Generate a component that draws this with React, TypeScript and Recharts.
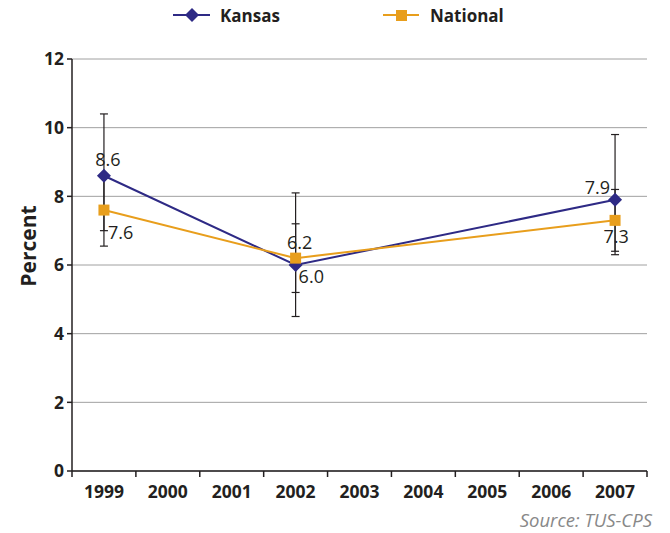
import React from 'react';
import { LineChart, Line, XAxis, YAxis, CartesianGrid, ErrorBar, LabelList } from 'recharts';

const years = [1999, 2000, 2001, 2002, 2003, 2004, 2005, 2006, 2007];
const kansas: (number | null)[] = [8.6, null, null, 6.0, null, null, null, null, 7.9];
const national: (number | null)[] = [7.6, null, null, 6.2, null, null, null, null, 7.3];
// [below, above] error extents
const kansasErr: ([number, number] | null)[] = [[1.6, 1.8], null, null, [1.5, 2.1], null, null, null, null, [1.5, 1.9]];
const nationalErr: ([number, number] | null)[] = [[1.05, 1.05], null, null, [1.0, 1.0], null, null, null, null, [1.0, 0.9]];
const yTicks = [0, 2, 4, 6, 8, 10, 12];

const KANSAS = '#2E2A85';
const NATIONAL = '#E89E1C';
const FONT = '"Open Sans", "DejaVu Sans", sans-serif';

const data = years
  .map((y, i) => ({
    year: y,
    kansas: kansas[i],
    national: national[i],
    kansasErr: kansasErr[i],
    nationalErr: nationalErr[i],
  }))
  .filter((r) => r.kansas !== null || r.national !== null);

const boundaries = [years[0] - 0.5, ...years.map((y) => y + 0.5)];
const xTicks = [...boundaries, ...years].sort((a, b) => a - b);

const XTick = (props: any) => {
  const { x, y, payload } = props;
  const v = payload.value;
  if (Number.isInteger(v)) {
    return (
      <text x={x} y={y + 27} textAnchor="middle" fontFamily={FONT} fontWeight={700} fontSize={17.5} fill="#231f20">
        {v}
      </text>
    );
  }
  return <line x1={x} x2={x} y1={y} y2={y + 6} stroke="#231f20" strokeWidth={1.5} />;
};

const Diamond = (props: any) => {
  const { cx, cy } = props;
  if (cx == null || cy == null) return null;
  const r = 7;
  return <polygon points={`${cx},${cy - r} ${cx + r},${cy} ${cx},${cy + r} ${cx - r},${cy}`} fill={KANSAS} />;
};

const Square = (props: any) => {
  const { cx, cy } = props;
  if (cx == null || cy == null) return null;
  return <rect x={cx - 5.5} y={cy - 5.5} width={11} height={11} fill={NATIONAL} />;
};

const kansasLabelPos = [
  { dx: 4, dy: -10, anchor: 'middle' },
  { dx: 3, dy: 18, anchor: 'start' },
  { dx: -5, dy: -6, anchor: 'end' },
];
const nationalLabelPos = [
  { dx: 4, dy: 29, anchor: 'start' },
  { dx: 4, dy: -9, anchor: 'middle' },
  { dx: 1, dy: 23, anchor: 'middle' },
];

const makeLabel = (pos: any[]) => (props: any) => {
  const { x, y, value, index } = props;
  const p = pos[index] || pos[0];
  return (
    <text x={x + p.dx} y={y + p.dy} textAnchor={p.anchor} fontFamily={FONT} fontSize={18} fill="#231f20">
      {Number(value).toFixed(1)}
    </text>
  );
};

export default function App() {
  return (
    <div style={{ position: 'absolute', left: 0, top: 0, width: 670, height: 533, background: '#fff' }}>
      <LineChart width={670} height={533} data={data} margin={{ top: 59, right: 23, left: 12, bottom: 32 }}>
        <CartesianGrid vertical={false} stroke="#a0a0a0" strokeWidth={1} />
        <XAxis
          dataKey="year"
          type="number"
          domain={[years[0] - 0.5, years[years.length - 1] + 0.5]}
          ticks={xTicks}
          interval={0}
          tick={<XTick />}
          tickLine={false}
          tickSize={0}
          tickMargin={0}
          height={30}
          axisLine={{ stroke: '#231f20', strokeWidth: 1.5 }}
        />
        <YAxis
          domain={[0, 12]}
          ticks={yTicks}
          interval={0}
          width={60}
          tickSize={5}
          tickMargin={3}
          tick={{ fontFamily: FONT, fontWeight: 700, fontSize: 17.5, fill: '#231f20' }}
          tickLine={{ stroke: '#231f20', strokeWidth: 1.5 }}
          axisLine={{ stroke: '#231f20', strokeWidth: 1.5 }}
        />
        <Line
          dataKey="kansas"
          stroke={KANSAS}
          strokeWidth={2}
          dot={<Diamond />}
          activeDot={false}
          isAnimationActive={false}
          connectNulls
        >
          <ErrorBar dataKey="kansasErr" width={4} stroke="#231f20" strokeWidth={1.2} direction="y" />
          <LabelList dataKey="kansas" content={makeLabel(kansasLabelPos)} />
        </Line>
        <Line
          dataKey="national"
          stroke={NATIONAL}
          strokeWidth={2}
          dot={<Square />}
          activeDot={false}
          isAnimationActive={false}
          connectNulls
        >
          <ErrorBar dataKey="nationalErr" width={4} stroke="#231f20" strokeWidth={1.2} direction="y" />
          <LabelList dataKey="national" content={makeLabel(nationalLabelPos)} />
        </Line>
      </LineChart>

      {/* Legend */}
      <svg style={{ position: 'absolute', left: 0, top: 0 }} width={670} height={34}>
        <line x1={173} x2={210} y1={15} y2={15} stroke={KANSAS} strokeWidth={2} />
        <polygon points="192,8 199,15 192,22 185,15" fill={KANSAS} />
        <text x={220} y={22} fontFamily={FONT} fontWeight={700} fontSize={17} fill="#231f20">Kansas</text>
        <line x1={383} x2={419} y1={15} y2={15} stroke={NATIONAL} strokeWidth={2} />
        <rect x={396} y={10} width={11} height={11} fill={NATIONAL} />
        <text x={430} y={22} fontFamily={FONT} fontWeight={700} fontSize={17} fill="#231f20">National</text>
      </svg>

      {/* Y axis title */}
      <svg style={{ position: 'absolute', left: 0, top: 0 }} width={60} height={533}>
        <text
          x={36}
          y={246}
          transform="rotate(-90 36 246)"
          textAnchor="middle"
          fontFamily={FONT}
          fontWeight={700}
          fontSize={21}
          fill="#231f20"
        >
          Percent
        </text>
      </svg>

      {/* Source */}
      <svg style={{ position: 'absolute', left: 0, top: 500 }} width={670} height={33}>
        <text x={652} y={27} textAnchor="end" fontFamily={FONT} fontStyle="italic" fontSize={18.5} fill="#888">
          Source: TUS-CPS
        </text>
      </svg>
    </div>
  );
}
